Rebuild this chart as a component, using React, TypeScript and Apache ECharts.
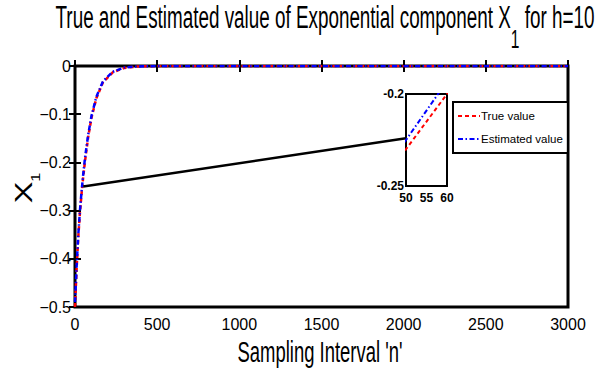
import React, { useEffect, useRef } from "react";
import * as echarts from "echarts";

// Sampling instants n and component X1 values
const sampleN = [0, 10, 20, 30, 40, 50, 60, 80, 100, 130, 170, 230, 300, 380, 500, 3000];
const trueValue = [-0.5, -0.42, -0.355, -0.305, -0.265, -0.23, -0.2, -0.148, -0.108, -0.067, -0.034, -0.013, -0.004, -0.001, 0, 0];
const estimatedValue = [-0.49, -0.415, -0.35, -0.3, -0.26, -0.225, -0.193, -0.143, -0.104, -0.064, -0.032, -0.012, -0.003, -0.001, 0, 0];

// Zoom connector (from the curve at n=50 to the inset's left edge)
const connectorN = [50, 2014];
const connectorX = [-0.25, -0.15];

const seriesNames = ["True value", "Estimated value"];
const titleMain = "True and Estimated value of Exponential component X";
const titleSub = "1";
const titleTail = " for h=10";
const xAxisTitle = "Sampling Interval 'n'";
const yAxisTitle = "X";
const yAxisSub = "1";

const SANS = '"Liberation Sans", Arial, Helvetica, sans-serif';

const pairs = (xs: number[], ys: number[]) => xs.map((x, i) => [x, ys[i]]);

const fmtMain = (v: number) => {
  const r = Math.round(v * 10) / 10;
  return r === 0 ? "0" : "\u2212" + Math.abs(r).toString();
};
const fmtInset = (v: number) => {
  const r = Math.round(v * 100) / 100;
  return r.toString();
};
const fmtPlain = (v: number) => String(Math.round(v));

export default function App() {
  const ref = useRef<HTMLDivElement>(null);
  useEffect(() => {
    if (!ref.current) return;
    const chart = echarts.init(ref.current, undefined, { renderer: "svg" });
    const redStyle = { color: "#ff0000", width: 2.5, type: [4, 3] as any };
    const blueStyle = { color: "#0000ff", width: 2.5, type: [5, 2.5, 1.5, 2.5] as any };
    const tick = { show: true, inside: true, length: 6, lineStyle: { color: "#000", width: 2 } };
    chart.setOption({
      animation: false,
      backgroundColor: "#ffffff",
      grid: [
        { left: 75, top: 66, width: 493, height: 241, show: true, borderColor: "#000", borderWidth: 3, backgroundColor: "transparent", containLabel: false },
        { left: 406, top: 94, width: 41, height: 92, show: true, borderColor: "#000", borderWidth: 2, backgroundColor: "#fff", containLabel: false, z: 5 },
      ],
      xAxis: [
        {
          gridIndex: 0, type: "value", min: 0, max: 3000, interval: 500,
          axisLine: { show: false }, axisTick: tick,
          axisLabel: { color: "#000", fontFamily: SANS, fontSize: 16, margin: 9, formatter: fmtPlain },
          splitLine: { show: false },
        },
        {
          gridIndex: 0, type: "value", position: "top", min: 0, max: 3000, interval: 500,
          axisLine: { show: false }, axisTick: tick,
          axisLabel: { show: false }, splitLine: { show: false },
        },
        {
          gridIndex: 1, type: "value", min: 50, max: 60, interval: 5,
          axisLine: { show: false }, axisTick: { show: false },
          axisLabel: { color: "#000", fontFamily: SANS, fontWeight: "bold", fontSize: 12, margin: 6, formatter: fmtPlain },
          splitLine: { show: false },
        },
      ],
      yAxis: [
        {
          gridIndex: 0, type: "value", min: -0.5, max: 0, interval: 0.1,
          axisLine: { show: false }, axisTick: tick,
          axisLabel: { color: "#000", fontFamily: SANS, fontSize: 16, margin: 4, formatter: fmtMain },
          splitLine: { show: false },
        },
        {
          gridIndex: 0, type: "value", position: "right", min: -0.5, max: 0, interval: 0.1,
          axisLine: { show: false }, axisTick: tick,
          axisLabel: { show: false }, splitLine: { show: false },
        },
        {
          gridIndex: 1, type: "value", min: -0.25, max: -0.2, interval: 0.05,
          axisLine: { show: false }, axisTick: { show: false },
          axisLabel: { color: "#000", fontFamily: SANS, fontWeight: "bold", fontSize: 12, margin: 2, formatter: fmtInset },
          splitLine: { show: false },
        },
      ],
      legend: {
        data: seriesNames,
        orient: "vertical",
        left: 453, top: 102,
        padding: [8, 5, 8, 4],
        itemGap: 11, itemWidth: 22, itemHeight: 14,
        backgroundColor: "#fff",
        borderColor: "#000", borderWidth: 2, borderRadius: 0,
        itemStyle: { opacity: 0 },
        textStyle: { color: "#000", fontFamily: SANS, fontSize: 11.5, padding: [0, 0, 0, -4] },
        selectedMode: false,
      },
      graphic: [
        {
          type: "text", x: 325, y: 2, scaleX: 0.82, scaleY: 1.33, z: 10,
          style: {
            text: `{a|${titleMain}}{s|${titleSub}}{a|${titleTail}}`,
            align: "center", verticalAlign: "top", fill: "#000",
            rich: {
              a: { fontFamily: SANS, fontSize: 23, lineHeight: 26, verticalAlign: "top", fill: "#000" },
              s: { fontFamily: SANS, fontSize: 19, lineHeight: 37, verticalAlign: "bottom", fill: "#000" },
            },
          },
        },
        {
          type: "text", x: 320, y: 352, scaleX: 0.82, scaleY: 1.3, z: 10,
          style: {
            text: xAxisTitle, align: "center", verticalAlign: "middle", fill: "#000",
            fontFamily: SANS, fontSize: 22.5,
          },
        },
        {
          type: "text", x: 12, y: 188, rotation: Math.PI / 2, scaleX: 1.35, z: 10,
          style: {
            text: `{a|${yAxisTitle}}{s|${yAxisSub}}`,
            align: "center", verticalAlign: "top", fill: "#000",
            rich: {
              a: { fontFamily: SANS, fontSize: 24, lineHeight: 26, verticalAlign: "top", fill: "#000" },
              s: { fontFamily: SANS, fontSize: 12, lineHeight: 30, verticalAlign: "bottom", fill: "#000" },
            },
          },
        },
      ],
      series: [
        {
          name: seriesNames[0], type: "line", xAxisIndex: 0, yAxisIndex: 0,
          data: pairs(sampleN, trueValue), symbol: "none", lineStyle: redStyle, itemStyle: { color: "#ff0000" },
        },
        {
          name: seriesNames[1], type: "line", xAxisIndex: 0, yAxisIndex: 0,
          data: pairs(sampleN, estimatedValue), symbol: "none", lineStyle: blueStyle, itemStyle: { color: "#0000ff" },
        },
        {
          name: "connector", type: "line", xAxisIndex: 0, yAxisIndex: 0,
          data: pairs(connectorN, connectorX), symbol: "none",
          lineStyle: { color: "#000", width: 2.5 }, z: 3,
        },
        {
          name: seriesNames[0], type: "line", xAxisIndex: 2, yAxisIndex: 2, clip: true, z: 6,
          data: pairs(sampleN, trueValue), symbol: "none", lineStyle: { ...redStyle, width: 2 }, itemStyle: { color: "#ff0000" },
        },
        {
          name: seriesNames[1], type: "line", xAxisIndex: 2, yAxisIndex: 2, clip: true, z: 6,
          data: pairs(sampleN, estimatedValue), symbol: "none", lineStyle: { ...blueStyle, width: 2 }, itemStyle: { color: "#0000ff" },
        },
      ],
    });
    return () => chart.dispose();
  }, []);
  return <div ref={ref} style={{ width: 603, height: 377, position: "absolute", left: 0, top: 0 }} />;
}
